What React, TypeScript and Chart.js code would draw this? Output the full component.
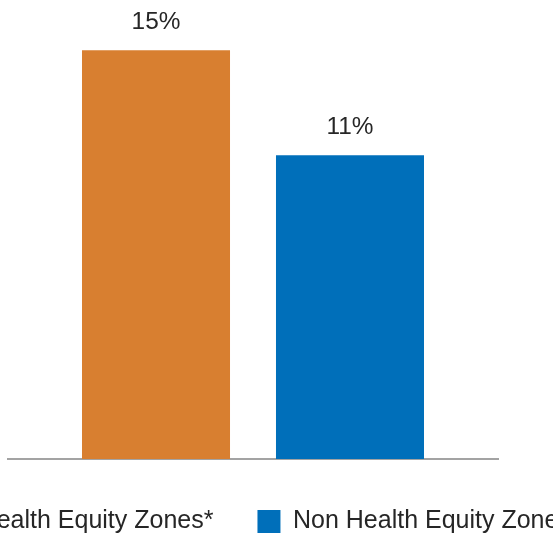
import React, { useEffect, useRef } from "react";
import { Chart, registerables } from "chart.js";

Chart.register(...registerables);

const categories = [""];
const seriesNames = ["Health Equity Zones*", "Non Health Equity Zones"];
const healthEquityValues = [15];
const nonHealthEquityValues = [11.15];
const seriesColors = ["#D87F30", "#006FBA"];
const yMin = 0;
const yMax = 16;

const FONT = "Arial, 'Liberation Sans', Helvetica, sans-serif";
const TEXT = "#262626";
const LABEL_SIZE = 24.4;
const LEGEND_SIZE = 25;

const valueLabels = {
  id: "valueLabels",
  afterDatasetsDraw(chart: any) {
    const ctx = chart.ctx;
    ctx.save();
    ctx.font = `${LABEL_SIZE}px ${FONT}`;
    ctx.fillStyle = TEXT;
    ctx.textAlign = "center";
    ctx.textBaseline = "alphabetic";
    chart.data.datasets.forEach((ds: any, di: number) => {
      const meta = chart.getDatasetMeta(di);
      meta.data.forEach((el: any, i: number) => {
        const v = ds.data[i];
        ctx.fillText(`${Math.round(v)}%`, el.x, el.y - 21);
      });
    });
    ctx.restore();
  },
};

export default function App() {
  const ref = useRef<HTMLCanvasElement | null>(null);

  useEffect(() => {
    if (!ref.current) return;
    const chart = new Chart(ref.current, {
      type: "bar",
      data: {
        labels: categories,
        datasets: [
          {
            label: seriesNames[0],
            data: healthEquityValues,
            backgroundColor: seriesColors[0],
            borderWidth: 0,
          },
          {
            label: seriesNames[1],
            data: nonHealthEquityValues,
            backgroundColor: seriesColors[1],
            borderWidth: 0,
          },
        ],
      },
      options: {
        responsive: false,
        animation: false,
        events: [],
        categoryPercentage: 0.7918,
        barPercentage: 0.763,
        layout: { padding: { top: 23, left: 0, right: 0, bottom: 0 } },
        plugins: {
          tooltip: { enabled: false },
          title: { display: false },
          legend: {
            display: true,
            position: "bottom",
            labels: {
              boxWidth: 23,
              boxHeight: 23,
              padding: 44,
              color: TEXT,
              font: { size: LEGEND_SIZE, family: FONT },
            },
          },
        },
        scales: {
          x: {
            z: 1,
            grid: { display: false, drawTicks: true, tickLength: 6 },
            ticks: { display: false },
            border: { display: true, color: "#A3A3A3", width: 2 },
          },
          y: {
            position: "left",
            min: yMin,
            max: yMax,
            grid: { display: false, drawTicks: false },
            ticks: { display: false },
            border: { display: false },
            afterFit: (s: any) => {
              s.width = 111;
            },
          },
          yRight: {
            type: "linear",
            position: "right",
            grid: { display: false, drawTicks: false },
            ticks: { display: false },
            border: { display: false },
            afterFit: (s: any) => {
              s.width = 119;
            },
          },
        },
      } as any,
      plugins: [valueLabels],
    });
    return () => chart.destroy();
  }, []);

  return (
    <div
      style={{
        position: "fixed",
        left: 0,
        top: 0,
        width: 553,
        height: 536,
        overflow: "hidden",
        background: "#ffffff",
      }}
    >
      <div style={{ position: "absolute", left: -103, top: 0, width: 720, height: 544 }}>
        <canvas ref={ref} width={720} height={544} style={{ display: "block", width: 720, height: 544 }} />
      </div>
    </div>
  );
}
